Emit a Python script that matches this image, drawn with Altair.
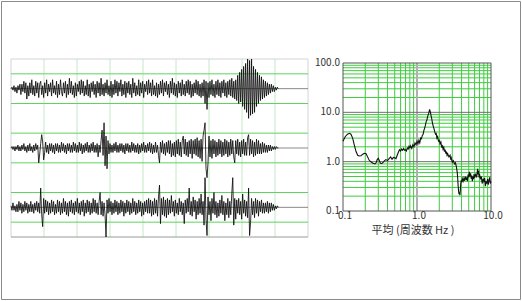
import altair as alt
import pandas as pd

# ---------------- seismogram panel (left) ----------------
T_STEP = 0.3                 # time units between samples (grid spacing = 10 units)
trace_centers = [10, 6, 2]   # baseline of each trace in grid units
# amplitudes in tenths of a grid division
trace1 = [0, 1, -1, 2, -2, 1, -3, 2, -1, 3,
          -4, 3, -2, 5, -3, 4, -7, 2, -5, 4,
          -3, 6, -4, 2, -5, 5, -3, 4, -6, 3,
          5, -4, 2, -6, 4, -3, 6, -5, 3, -2,
          4, -5, 6, -3, 2, -4, 5, -6, 3, -4,
          6, -2, -5, 4, -3, 5, -6, 3, -4, 7,
          -3, 5, -4, 2, -6, 4, -5, 3, -2, 5,
          -4, 6, -3, 5, -5, 2, -4, 6, -5, 3,
          -6, 4, -2, 5, -4, 3, -6, 5, -3, 4,
          -5, 7, -4, 3, -5, 4, -3, 6, -4, 2,
          -5, 5, -6, 3, -4, 6, -3, 5, -5, 4,
          -2, 6, -5, 3, -4, 5, -6, 4, -3, 5,
          -4, 3, -6, 7, -3, 4, -5, 2, -4, 6,
          -5, 4, -3, 5, -6, 3, -2, 5, -4, 6,
          -3, 4, -5, 6, -4, 2, -5, 4, -6, 3,
          -4, 5, -3, 6, -5, 4, -2, 5, -4, 3,
          -6, 5, -3, 7, -4, 4, -5, 3, -6, 5,
          -3, 4, -5, 6, -4, 3, -5, 5, -3, 6,
          -4, 5, -6, 3, -5, 4, -3, 6, -4, 5,
          -5, 3, -6, 4, -5, 6, -10, 5, -14, 4,
          -6, 5, -4, 6, -5, 3, -6, 5, -4, 6,
          -5, 4, -6, 5, -3, 6, -5, 4, -6, 5,
          -4, 6, -5, 7, -6, 5, -7, 6, -8, 9,
          -10, 11, -9, 13, -12, 15, -14, 17, -16, 20,
          -20, 19, -18, 20, -17, 15, -16, 13, -12, 11,
          -10, 9, -8, 8, -7, 6, -6, 5, -5, 4,
          -4, 3, -3, 3, -2, 2, -2, 1, -1, 1,
          0]
trace2 = [0, 1, -1, 1, -2, 1, -1, 2, -2, 1,
          -2, 2, -1, 3, -2, 1, -3, 2, -2, 3,
          -2, 1, -3, 2, -2, 3, -1, 2, -10, -4,
          3, 9, 4, -8, -3, 4, -3, 2, -4, 3,
          -2, 3, -3, 2, -4, 3, -2, 3, -3, 2,
          -3, 4, -2, 3, -3, 2, -4, 3, -2, 3,
          -3, 2, -3, 4, -2, 3, -3, 2, -3, 4,
          -2, 3, -4, 2, -3, 3, -2, 4, -3, 2,
          -3, 3, -2, 4, -3, 2, -3, 3, -6, 2,
          -3, 5, 12, -5, 17, -12, 8, -14, 5, -4,
          3, -3, 2, -3, 3, -2, 4, -3, 2, -3,
          3, -2, 3, -3, 2, -4, 3, -2, 3, -3,
          2, -3, 4, -2, 3, -3, 2, -3, 3, -4,
          2, -3, 3, -2, 4, -3, 2, -3, 3, -2,
          4, -3, 3, -4, 2, -3, 4, -3, 2, -5,
          -10, 4, -3, 5, -4, 3, -5, 4, -3, 5,
          -4, 5, -6, 3, -5, 4, -6, 5, -4, 6,
          -5, 4, -6, 5, 8, -4, 6, -5, 4, -6,
          5, -4, 6, -7, 5, -4, 6, -5, 7, -6,
          5, -7, 6, -9, 8, 12, 17, -14, -20, -10,
          8, -6, 5, -7, 6, -4, 5, -6, 4, -5,
          6, -4, 5, -6, 4, -5, 6, -4, 5, -6,
          4, -5, 6, -4, 5, -6, -10, 5, -4, 6,
          -5, 4, -6, 5, -4, 6, -5, 4, -5, 7,
          9, -5, 6, -4, 5, -6, 4, -5, 6, -4,
          5, -4, 3, -4, 4, -3, 3, -3, 2, -3,
          2, -2, 2, -2, 1, -1, 1, -1, 1, 0,
          0]
trace3 = [1, -2, 3, -2, 1, -3, 2, -3, 4, -2,
          3, -4, 2, -3, 4, -2, 3, -4, 2, -3,
          4, -3, 2, -4, 3, -2, 4, -3, 3, -4,
          13, -5, -13, 6, -4, 5, -3, 4, -5, 3,
          -4, 5, -3, 4, -5, 2, -4, 5, -3, 4,
          -5, 3, -4, 6, -3, 4, -5, 3, -6, 4,
          -3, 5, -4, 3, -5, 4, -3, 6, -4, 3,
          -5, 4, -3, 5, -6, 3, -4, 5, -3, 4,
          -5, 3, -4, 6, -3, 5, -4, 3, -5, 4,
          10, -5, 4, -6, 3, -5, -20, 5, -4, 6,
          -3, 4, -5, 3, -4, 5, -3, 4, -5, 3,
          -4, 5, -3, 4, -6, 3, -4, 5, -3, 4,
          -5, 3, -4, 6, -3, 4, -5, 3, -4, 5,
          -3, 4, -6, 3, -5, 4, -3, 5, -4, 6,
          -4, 5, -6, 4, -5, 6, -4, 5, -6, 7,
          15, -11, 6, -5, 7, -6, 5, -7, 6, -5,
          5, -4, 8, -3, 4, -6, 5, -4, 3, -5,
          6, -3, 4, -5, 3, -11, 5, -4, 6, -3,
          13, -5, 4, -6, 7, -3, 5, -8, 4, -5,
          6, -4, 9, -5, 4, -12, 20, -8, -19, 7,
          -5, 4, -9, 6, -4, 10, -5, 4, -7, 3,
          -6, 5, -4, 8, -5, 4, -9, 3, -5, 6,
          -7, 4, -5, 9, 20, -12, 6, -8, 5, -4,
          6, -5, 4, -8, 9, -4, 5, -6, 4, -7,
          13, -19, -10, 6, -5, 4, -7, 6, -4, 5,
          -6, 4, -3, 5, -4, 3, -4, 3, -3, 4,
          -4, 3, -3, 3, -2, 2, -2, 1, -1, 1,
          0]

v_green = [10, 20, 30, 40, 50, 60, 70, 80]
v_edge = [0, 90]
h_green = [1, 3, 5, 7, 9, 11]
h_center = [2, 6, 10]
h_bottom = [0]
h_top = [12]

# ---------------- spectrum panel (right) ----------------
freq = [0.1, 0.107, 0.115, 0.122, 0.128, 0.135, 0.142, 0.15, 0.158, 0.165,
        0.175, 0.185, 0.195, 0.205, 0.215, 0.225, 0.24, 0.255, 0.27, 0.28,
        0.29, 0.30, 0.31, 0.32, 0.335, 0.35, 0.365, 0.38, 0.40, 0.42,
        0.44, 0.46, 0.48, 0.50, 0.52, 0.54, 0.56, 0.58, 0.60, 0.62,
        0.64, 0.66, 0.68, 0.70, 0.72, 0.74, 0.76, 0.78, 0.80, 0.82,
        0.85, 0.88, 0.91, 0.94, 0.97, 1.00, 1.03, 1.06, 1.09, 1.12,
        1.15, 1.18, 1.21, 1.24, 1.27, 1.30, 1.33, 1.36, 1.40, 1.44,
        1.48, 1.52, 1.55, 1.58, 1.62, 1.66, 1.70, 1.74, 1.78, 1.82,
        1.86, 1.90, 1.95, 2.0, 2.05, 2.1, 2.15, 2.2, 2.25, 2.3,
        2.35, 2.4, 2.45, 2.5, 2.55, 2.6, 2.7, 2.8, 2.85, 2.9,
        3.0, 3.1, 3.2, 3.3, 3.4, 3.5, 3.55, 3.6, 3.65, 3.7,
        3.75, 3.8, 3.85, 3.9, 3.95, 4.0, 4.1, 4.2, 4.3, 4.4,
        4.5, 4.6, 4.7, 4.8, 4.9, 5.0, 5.1, 5.2, 5.3, 5.4,
        5.5, 5.6, 5.7, 5.8, 5.9, 6.0, 6.2, 6.4, 6.6, 6.7,
        6.8, 6.9, 7.0, 7.2, 7.4, 7.6, 7.8, 8.0, 8.2, 8.4,
        8.6, 8.8, 9.0, 9.2, 9.4, 9.6, 9.8, 10.0]
amp = [2.6, 3.2, 3.6, 3.75, 3.6, 3.0, 2.2, 1.6, 1.35, 1.3,
       1.32, 1.42, 1.48, 1.45, 1.25, 1.08, 0.98, 0.93, 0.9, 0.95,
       1.1, 1.17, 1.05, 0.93, 0.92, 0.98, 1.05, 1.1, 1.05, 1.15,
       1.25, 1.12, 1.22, 1.2, 1.15, 1.35, 1.55, 1.75, 1.65, 1.8,
       1.7, 1.85, 1.7, 1.75, 1.65, 1.9, 1.8, 2.05, 1.9, 2.1,
       1.85, 2.2, 2.0, 2.4, 2.2, 2.6, 2.3, 2.7, 2.4, 3.0,
       2.9, 3.4, 3.6, 4.3, 4.8, 5.5, 6.5, 7.0, 8.5, 9.5,
       11.5, 10.0, 8.5, 7.5, 6.0, 5.2, 4.6, 4.0, 3.6, 3.7,
       3.0, 3.2, 2.6, 2.7, 2.3, 2.5, 2.0, 2.1, 1.8, 1.95,
       1.6, 1.75, 1.45, 1.6, 1.35, 1.45, 1.25, 1.35, 1.1, 1.2,
       0.98, 1.05, 0.9, 0.95, 0.8, 0.6, 0.45, 0.32, 0.25, 0.22,
       0.24, 0.21, 0.26, 0.35, 0.42, 0.38, 0.45, 0.40, 0.46, 0.41,
       0.50, 0.43, 0.48, 0.40, 0.55, 0.48, 0.62, 0.50, 0.58, 0.45,
       0.52, 0.40, 0.50, 0.44, 0.56, 0.47, 0.55, 0.50, 0.72, 0.55,
       0.65, 0.48, 0.56, 0.44, 0.50, 0.36, 0.45, 0.40, 0.47, 0.32,
       0.40, 0.36, 0.45, 0.34, 0.42, 0.48, 0.36, 0.40]

f_minor = [0.2, 0.3, 0.4, 0.5, 0.6, 0.7, 0.8, 0.9, 2, 3, 4, 5, 6, 7, 8, 9]
f_major = [1]
a_minor = [0.2, 0.3, 0.4, 0.5, 0.6, 0.7, 0.8, 0.9,
           2, 3, 4, 5, 6, 7, 8, 9,
           20, 30, 40, 50, 60, 70, 80, 90]
a_major = [1, 10]
a_ticks = [0.1, 1, 10, 100]
a_tick_labels = ["0.1", "1.0", "10.0", "100.0"]
f_ticks = [0.1, 1, 10]
f_tick_labels = ["0.1", "1.0", "10.0"]
x_title = "平均 (周波数 Hz )"

FONT = "Noto Sans CJK JP"

# ---------------- scales ----------------
xL = alt.Scale(domain=[0, 90], range=[10, 307], nice=False, zero=False)
yL = alt.Scale(domain=[0, 12], range=[236, 58], nice=False, zero=False)
xR = alt.Scale(type="log", domain=[0.1, 10], range=[342, 490], nice=False)
yR = alt.Scale(type="log", domain=[0.1, 100], range=[210, 62], nice=False)

# ---------------- left panel ----------------
rows = []
for k, (c, tr) in enumerate(zip(trace_centers, [trace1, trace2, trace3])):
    for i, v in enumerate(tr):
        rows.append({"trace": k, "t": i * T_STEP, "y": c + v / 10.0})
traces_df = pd.DataFrame(rows)


def vrules(vals, color, width=1.0):
    d = pd.DataFrame({"t": vals, "y0": 0, "y1": 12})
    return alt.Chart(d).mark_rule(color=color, strokeWidth=width).encode(
        x=alt.X("t:Q", scale=xL, axis=None),
        y=alt.Y("y0:Q", scale=yL, axis=None),
        y2="y1:Q",
    )


def hrules(vals, color, width=1.0):
    d = pd.DataFrame({"y": vals, "t0": 0, "t1": 90})
    return alt.Chart(d).mark_rule(color=color, strokeWidth=width).encode(
        y=alt.Y("y:Q", scale=yL, axis=None),
        x=alt.X("t0:Q", scale=xL, axis=None),
        x2="t1:Q",
    )


traces = alt.Chart(traces_df).mark_line(color="#0d0d0d", strokeWidth=0.85).encode(
    x=alt.X("t:Q", scale=xL, axis=None),
    y=alt.Y("y:Q", scale=yL, axis=None),
    detail="trace:N",
    order="t:Q",
)

left = alt.layer(
    vrules(v_green, "#c4eac4"),
    vrules(v_edge, "#d4d4d4"),
    hrules(h_top, "#d4d4d4"),
    hrules(h_green, "#5fd35f"),
    hrules(h_center, "#8a8a8a"),
    hrules(h_bottom, "#9a9a9a"),
    traces,
)

# ---------------- right panel ----------------
def fr_rules(vals, color, width=1.0):
    d = pd.DataFrame({"f": vals, "a0": 0.1, "a1": 100})
    return alt.Chart(d).mark_rule(color=color, strokeWidth=width).encode(
        x=alt.X("f:Q", scale=xR, axis=None),
        y=alt.Y("a0:Q", scale=yR, axis=None),
        y2="a1:Q",
    )


def ar_rules(vals, color, width=1.0):
    d = pd.DataFrame({"a": vals, "f0": 0.1, "f1": 10})
    return alt.Chart(d).mark_rule(color=color, strokeWidth=width).encode(
        y=alt.Y("a:Q", scale=yR, axis=None),
        x=alt.X("f0:Q", scale=xR, axis=None),
        x2="f1:Q",
    )


spec_df = pd.DataFrame({"f": freq, "a": amp})
spectrum = alt.Chart(spec_df).mark_line(color="#111111", strokeWidth=1.1).encode(
    x=alt.X("f:Q", scale=xR, axis=None),
    y=alt.Y("a:Q", scale=yR, axis=None),
    order="f:Q",
)

frame = alt.Chart(pd.DataFrame({"f0": [0.1], "f1": [10], "a0": [0.1], "a1": [100]})).mark_rect(
    fillOpacity=0, stroke="#555555", strokeWidth=1
).encode(
    x=alt.X("f0:Q", scale=xR, axis=None), x2="f1:Q",
    y=alt.Y("a0:Q", scale=yR, axis=None), y2="a1:Q",
)

ylab = alt.Chart(pd.DataFrame({"a": a_ticks, "lab": a_tick_labels, "f": 0.1})).mark_text(
    align="right", baseline="middle", dx=-3, font=FONT, fontSize=10, color="#333333"
).encode(
    x=alt.X("f:Q", scale=xR, axis=None),
    y=alt.Y("a:Q", scale=yR, axis=None),
    text="lab:N",
)

xlab = alt.Chart(pd.DataFrame({"f": f_ticks, "lab": f_tick_labels, "a": 0.1})).mark_text(
    align="center", baseline="middle", dx=2, dy=5, font=FONT, fontSize=10, color="#333333"
).encode(
    x=alt.X("f:Q", scale=xR, axis=None),
    y=alt.Y("a:Q", scale=yR, axis=None),
    text="lab:N",
)

xtitle = alt.Chart(pd.DataFrame({"f": [1.0], "a": [0.1], "lab": [x_title]})).mark_text(
    align="center", baseline="middle", dx=-4, dy=20, font=FONT, fontSize=11, color="#333333"
).encode(
    x=alt.X("f:Q", scale=xR, axis=None),
    y=alt.Y("a:Q", scale=yR, axis=None),
    text="lab:N",
)

right = alt.layer(
    fr_rules(f_minor, "#3fcc3f"),
    ar_rules(a_minor, "#3fcc3f"),
    fr_rules(f_major, "#b0b0b0", 2),
    ar_rules(a_major, "#707070"),
    frame,
    spectrum,
    ylab,
    xlab,
    xtitle,
)

chart = alt.layer(left, right).resolve_scale(
    x="independent", y="independent"
).properties(
    width=519,
    height=298,
    autosize=alt.AutoSizeParams(type="none"),
    padding={"left": 1, "top": 1, "right": 2, "bottom": 2},
    background="white",
).configure_view(stroke="#8a8a8a", strokeWidth=1)

chart.save("out.html", embed_options={"renderer": "svg", "actions": False})
